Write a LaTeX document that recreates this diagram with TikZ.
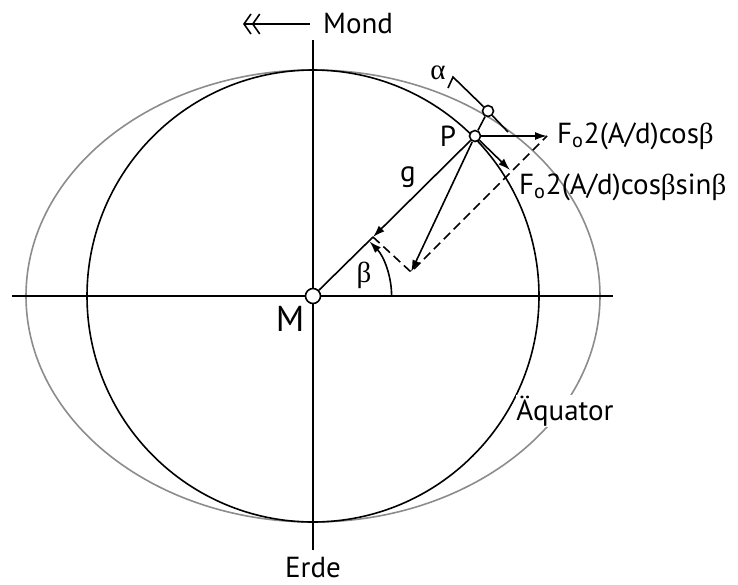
\documentclass[tikz,border=0pt]{standalone}
\usepackage{fontspec}
\setmainfont{PT Sans}
\newfontfamily\greekfont{Liberation Serif}
\usepackage{tikz}
\usetikzlibrary{arrows.meta,positioning}

\newcommand{\gb}{{\greekfont β}}

\begin{document}
\begin{tikzpicture}[
        x=0.5pt, y=-0.5pt,
        font=\fontsize{14.5}{16}\selectfont,
        axis/.style={line width=0.8pt},
        vec/.style={-{Latex[length=6pt,width=4pt]}, line width=0.8pt},
        helper/.style={dash pattern=on 4.5pt off 2.5pt, line width=0.8pt},
        dot/.style={circle, draw, fill=white, line width=0.8pt, inner sep=0pt, minimum size=#1},
        dot/.default=5.5pt
    ]
        \useasboundingbox (0,0) rectangle (738,584);
        \coordinate (M0) at (313,296);
        \coordinate (west) at (12,296);
        \coordinate (east) at (613,296);
        \coordinate (north) at (313,40);
        \coordinate (south) at (313,550);
        \draw[black!45, line width=0.8pt] (M0) ellipse [x radius=143.5pt, y radius=113pt];
        \draw[axis] (M0) circle [radius=113pt];
        \draw[axis] (west) -- (east);
        \draw[axis] (north) -- (south);
        \draw[vec] ([shift={(0:39.3pt)}]M0) arc [start angle=0, end angle=44, radius=39.3pt];
        \node[dot=7.5pt] (M) at (313,296) {};
        \node[dot] (P) at (475,136) {};
        \node[dot] (Q) at (488,111) {};
        \coordinate (G) at (373,237);
        \coordinate (R) at (411,272);
        \coordinate (T) at (510,170);
        \coordinate (F) at (547,136);
        \coordinate (ta) at (453,77);
        \coordinate (tb) at (508,132);
        \coordinate (tk) at (448,88);
        \coordinate (ma) at (310,24);
        \coordinate (mb) at (243,24);
        \draw[axis] (M) -- (G);
        \draw[vec] (P) -- (G);
        \draw[vec] (P) -- (R);
        \draw[vec] (P) -- (T);
        \draw[vec] (P) -- (F);
        \draw[helper] (G) -- (R) -- (F);
        \draw[axis] (P) -- (Q);
        \draw[axis] (tk) -- (ta) -- (Q);
        \draw[axis] (Q) -- (tb);
        \draw[line width=0.8pt, -{Straight Barb[length=3.5pt,width=10pt] Straight Barb[length=3.5pt,width=10pt]}] (ma) -- (mb);
        \node[right=3pt of ma] (mond) {Mond};
        \node[inner sep=0pt] (erde) at (313,568) {Erde};
        \node[fill=white, inner sep=0.3pt] (aeq) at (565,411) {Äquator};
        \node[font=\fontsize{18}{20}\selectfont] (mlab) at (290,319) {M};
        \node (plab) at (448,136) {P};
        \node (glab) at (408,177) {g};
        \node (blab) at (364,275) {\gb};
        \node (alab) at (438,73) {{\greekfont α}};
        \node[anchor=west] (fh) at (550,136) {F\textsubscript{o}2(A/d)cos\gb};
        \node[anchor=west] (ft) at (512,187) {F\textsubscript{o}2(A/d)cos\gb sin\gb};
    \end{tikzpicture}
\end{document}
